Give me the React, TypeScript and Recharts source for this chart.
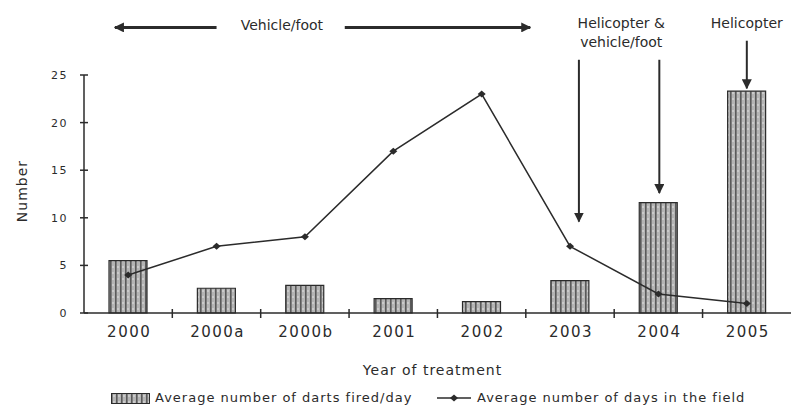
import React from 'react';
import {
  Bar,
  ComposedChart,
  Legend,
  Line,
  ReferenceDot,
  ReferenceLine,
  XAxis,
  YAxis,
} from 'recharts';

// Data
const categories = ['2000', '2000a', '2000b', '2001', '2002', '2003', '2004', '2005'];
const dartsPerDay = [5.5, 2.6, 2.9, 1.5, 1.2, 3.4, 11.6, 23.3];
const daysInField = [4, 7, 8, 17, 23, 7, 2, 1];
const yTicks = [0, 5, 10, 15, 20, 25];

const barLabel = 'Average number of darts fired/day';
const lineLabel = 'Average number of days in the field';

// Annotations: category + shift (fraction of a band), y in data units
const vehicleArrows = [
  { from: '2000a', fromDx: 0, to: '2000', toDx: -0.15, y: 30 },
  { from: '2000b', fromDx: 0.45, to: '2003', toDx: -0.45, y: 30 },
];
const downArrows = [
  { cat: '2003', dx: 0.1, from: 26.6, to: 9.6 },
  { cat: '2004', dx: 0.01, from: 26.6, to: 12.6 },
  { cat: '2005', dx: 0, from: 28.6, to: 23.6 },
];
const notes = [
  { cat: '2000b', dx: -0.26, y: 30.1, lines: ['Vehicle/foot'] },
  { cat: '2004', dx: -0.42, y: 30.4, lines: ['Helicopter &', 'vehicle/foot'] },
  { cat: '2005', dx: 0, y: 30.4, lines: ['Helicopter'] },
];

const data = categories.map((year, i) => ({
  year,
  darts: dartsPerDay[i],
  days: daysInField[i],
}));

const FONT = '"DejaVu Sans", "Liberation Sans", Arial, sans-serif';
const INK = '#2b2b2b';
const WIDTH = 791;
const HEIGHT = 410;
const LEFT = 84;
const BAND = (WIDTH + 1 - LEFT) / categories.length;

const XTick = (props: any) => {
  const { x, y, payload, index } = props;
  return (
    <g>
      {index > 0 && (
        <line x1={x - BAND / 2} x2={x - BAND / 2} y1={y - 4} y2={y + 5} stroke={INK} strokeWidth={1.5} />
      )}
      <text
        x={x + 1}
        y={y + 24}
        textAnchor="middle"
        fontSize={15}
        letterSpacing={1.5}
        fill={INK}
        fontFamily={FONT}
      >
        {payload.value}
      </text>
    </g>
  );
};

const YTick = (props: any) => {
  const { x, y, payload } = props;
  return (
    <g>
      <line x1={x - 4} x2={x + 4} y1={y} y2={y} stroke={INK} strokeWidth={1.5} />
      <text
        x={x - 16}
        y={y + 4}
        textAnchor="end"
        fontSize={11}
        letterSpacing={1.5}
        fill={INK}
        fontFamily={FONT}
      >
        {payload.value}
      </text>
    </g>
  );
};

const YLabel = (props: any) => {
  const vb = props.viewBox;
  const cx = vb.x + 27;
  const cy = vb.y + vb.height / 2 - 3;
  return (
    <text
      x={cx}
      y={cy}
      transform={`rotate(-90 ${cx} ${cy})`}
      textAnchor="middle"
      fontSize={14}
      letterSpacing={1}
      fill={INK}
      fontFamily={FONT}
    >
      Number
    </text>
  );
};

const Diamond = (props: any) => {
  const { cx, cy } = props;
  if (cx == null || cy == null) return null;
  return <path d={`M${cx - 4},${cy} L${cx},${cy - 3.5} L${cx + 4},${cy} L${cx},${cy + 3.5} Z`} fill={INK} />;
};

const legendText: React.CSSProperties = {
  position: 'absolute',
  top: 0,
  lineHeight: '14px',
  fontFamily: FONT,
  fontSize: 13,
  letterSpacing: 1,
  color: INK,
  whiteSpace: 'nowrap',
};

const LegendContent = () => (
  <div style={{ position: 'relative', width: WIDTH, height: 14 }}>
    <svg width={39} height={11} style={{ position: 'absolute', left: 111, top: 2 }}>
      <rect x={0.5} y={0.5} width={38} height={10} fill="url(#stripes)" stroke={INK} />
    </svg>
    <span style={{ ...legendText, left: 155 }}>{barLabel}</span>
    <svg width={34} height={10} style={{ position: 'absolute', left: 437, top: 2 }}>
      <line x1={0} x2={34} y1={5} y2={5} stroke={INK} strokeWidth={1.5} />
      <path d="M13,5 L17,1.5 L21,5 L17,8.5 Z" fill={INK} />
    </svg>
    <span style={{ ...legendText, left: 477 }}>{lineLabel}</span>
  </div>
);

const arrowLine = (dx1: number, dx2: number, width: number) => (p: any) => (
  <line
    x1={p.x1 + dx1 * BAND}
    y1={p.y1}
    x2={p.x2 + dx2 * BAND}
    y2={p.y2}
    stroke={INK}
    strokeWidth={width}
    markerEnd="url(#arrowHead)"
  />
);

export default function App() {
  return (
    <div style={{ position: 'absolute', left: 0, top: 0, width: WIDTH, height: HEIGHT, background: '#fff' }}>
      <ComposedChart
        width={WIDTH}
        height={HEIGHT}
        data={data}
        margin={{ top: 75, right: 0, left: 0, bottom: 5 }}
      >
        <defs>
          <pattern id="stripes" width={5} height={6} patternUnits="userSpaceOnUse">
            <rect width={5} height={6} fill="#b4b4b4" />
            <rect x={0} width={1.6} height={6} fill="#5a5a5a" />
            <rect x={2.5} y={2} width={1} height={2} fill="#e0e0e0" />
          </pattern>
          <marker
            id="arrowHead"
            viewBox="0 0 10 10"
            refX={9}
            refY={5}
            markerWidth={10}
            markerHeight={10}
            markerUnits="userSpaceOnUse"
            orient="auto-start-reverse"
          >
            <path d="M0,0 L10,5 L0,10 Z" fill={INK} />
          </marker>
        </defs>

        <XAxis
          dataKey="year"
          height={78}
          axisLine={{ stroke: INK, strokeWidth: 1.5 }}
          tickLine={false}
          tickSize={0}
          tickMargin={0}
          tick={<XTick />}
          interval={0}
          label={{
            value: 'Year of treatment',
            position: 'insideTop',
            offset: 52,
            fill: INK,
            fontSize: 14,
            letterSpacing: 1,
            fontFamily: FONT,
            dx: -5,
          }}
        />
        <YAxis
          width={LEFT}
          domain={[0, 25]}
          ticks={yTicks}
          axisLine={{ stroke: INK, strokeWidth: 1.5 }}
          tickLine={false}
          tickSize={0}
          tickMargin={0}
          tick={<YTick />}
          label={{ content: <YLabel /> }}
        />

        <Legend verticalAlign="bottom" align="left" wrapperStyle={{ left: 0 }} content={<LegendContent />} />

        <Bar
          dataKey="darts"
          name={barLabel}
          barSize={38}
          fill="url(#stripes)"
          stroke={INK}
          strokeWidth={1.2}
          isAnimationActive={false}
        />
        <Line
          dataKey="days"
          name={lineLabel}
          type="linear"
          stroke={INK}
          strokeWidth={1.5}
          dot={<Diamond />}
          activeDot={false}
          isAnimationActive={false}
        />

        {vehicleArrows.map((a, i) => (
          <ReferenceLine
            key={`h${i}`}
            ifOverflow="visible"
            segment={[
              { x: a.from, y: a.y },
              { x: a.to, y: a.y },
            ]}
            shape={arrowLine(a.fromDx, a.toDx, 3)}
          />
        ))}
        {downArrows.map((a, i) => (
          <ReferenceLine
            key={`v${i}`}
            ifOverflow="visible"
            segment={[
              { x: a.cat, y: a.from },
              { x: a.cat, y: a.to },
            ]}
            shape={arrowLine(a.dx, a.dx, 2)}
          />
        ))}
        {notes.map((n, i) => (
          <ReferenceDot
            key={`t${i}`}
            x={n.cat}
            y={n.y}
            ifOverflow="visible"
            shape={(p: any) => (
              <text
                x={p.cx + n.dx * BAND}
                y={p.cy + 4}
                textAnchor="middle"
                fontSize={14}
                fill={INK}
                fontFamily={FONT}
              >
                {n.lines.map((ln, j) => (
                  <tspan key={j} x={p.cx + n.dx * BAND} dy={j === 0 ? 0 : 19}>
                    {ln}
                  </tspan>
                ))}
              </text>
            )}
          />
        ))}
      </ComposedChart>
    </div>
  );
}
